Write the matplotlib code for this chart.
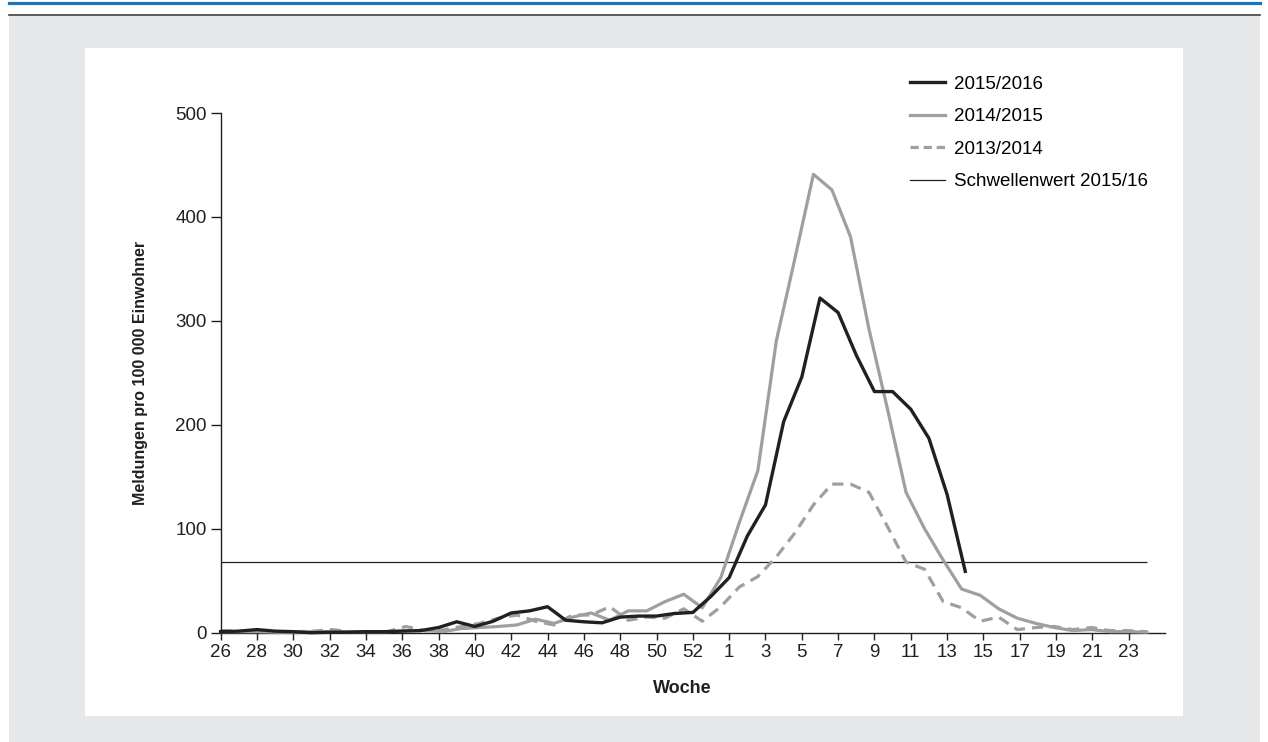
import numpy as np
import matplotlib
matplotlib.use("Agg")
import matplotlib.pyplot as plt
from matplotlib.patches import Rectangle
from matplotlib.lines import Line2D

plt.rcParams['font.family'] = ['Liberation Sans', 'DejaVu Sans']

# Kalenderwochen der Achse (2015 hat 53 Wochen)
axis_weeks = list(range(26, 54)) + list(range(1, 25))

# Meldungen pro 100 000 Einwohner, Saison 2015/2016 (Woche 26 bis 14)
s_1516 = [1, 1.5, 3, 1.5, 1, 0, 0.5, 0.5, 1, 1, 1.5, 2, 5, 10.5, 6, 11, 19, 21, 25, 12,
          10.5, 9.5, 15, 16, 16, 18.5, 19.5, 35,
          53, 93, 123, 203, 246, 322, 308, 267, 232, 232, 215, 187, 133, 59]

# Saisons ohne Woche 53 (Woche 26 bis 24, 51 Werte)
s_1415 = [1, 1, 1, 0.5, 0.5, 1, 1, 1, 1, 1, 2, 2, 1, 4, 5, 6, 7.5, 13, 9, 15,
          19, 12, 21, 21, 30, 37, 24,
          53, 106, 156, 281, 360, 441, 426, 381, 292, 215, 135, 100, 70, 42, 36,
          23, 14, 9, 5, 2, 3, 1, 1, 0.5]
s_1314 = [2, 1.5, 1, 1, 1, 1.5, 3, 1, 1, 1, 6, 2, 2.6, 6, 9, 14, 17, 11, 7.5, 17,
          17, 25, 12, 15, 14, 23, 11,
          25, 44, 54, 73, 96, 123, 143, 143, 135, 102, 68, 61, 30, 24, 11,
          15, 3, 5, 6, 3, 5, 2, 2, 1]

threshold = 68

labels = ['2015/2016', '2014/2015', '2013/2014', 'Schwellenwert 2015/16']

fig = plt.figure(figsize=(12.68, 7.42), dpi=100)
fig.patch.set_facecolor('white')

# Rahmen: blaue Linie, dunkle Linie, grauer Kasten, weisses Feld
fig.add_artist(Rectangle((0.0071, 0), 0.9866, 0.9784, transform=fig.transFigure,
                         facecolor='#e6e7e8', edgecolor='none', zorder=-3))
fig.add_artist(Rectangle((0.067, 0.035), 0.866, 0.9003, transform=fig.transFigure,
                         facecolor='white', edgecolor='none', zorder=-2))
fig.add_artist(Line2D([0.0071, 0.9937], [0.9956, 0.9956], color='#1b75bb', lw=2.3))
fig.add_artist(Line2D([0.0071, 0.9937], [0.9798, 0.9798], color='#3d3d3d', lw=1.2))

ax = fig.add_axes([0.174, 0.1473, 0.7448, 0.7004])
ax.set_facecolor('none')
ax.set_zorder(1)

x_new = np.arange(len(s_1516))
# 51 Wochen auf dieselbe Breite verteilt
x_old = np.linspace(0, len(axis_weeks) - 1, len(s_1415))

dark = '#231f20'
grey = '#9d9fa2'

ax.plot(x_new, s_1516, color=dark, lw=2.4, clip_on=False, zorder=4)
ax.plot(x_old, s_1415, color=grey, lw=2.3, clip_on=False, zorder=3)
ax.plot(x_old, s_1314, color=grey, lw=2.3, ls=(0, (3.5, 2.2)), clip_on=False, zorder=2)
ax.hlines(threshold, 0, len(axis_weeks) - 1, color=dark, lw=0.9, zorder=1)

ax.set_xlim(0, 52)
ax.set_ylim(0, 500)
ax.set_yticks([0, 100, 200, 300, 400, 500])
tick_pos = list(range(0, len(axis_weeks) - 1, 2))
ax.set_xticks(tick_pos)
ax.set_xticklabels([str(axis_weeks[i]) for i in tick_pos])

for s in ['top', 'right']:
    ax.spines[s].set_visible(False)
for s in ['left', 'bottom']:
    ax.spines[s].set_color('#231f20')
    ax.spines[s].set_linewidth(1.0)

ax.tick_params(axis='y', length=7, width=1, pad=3, labelsize=13.5, colors='#231f20')
ax.tick_params(axis='x', length=5, width=1, pad=3, labelsize=13.5, colors='#231f20')

ax.set_ylabel('Meldungen pro 100 000 Einwohner', fontsize=11.5, fontweight='bold', color='#231f20')
ax.yaxis.set_label_coords(-0.077, 0.5)
ax.set_xlabel('Woche', fontsize=13, fontweight='bold', color='#231f20', va='top')
ax.xaxis.set_label_coords(0.4885, -0.091)

handles = [Line2D([], [], color=dark, lw=2.4),
           Line2D([], [], color=grey, lw=2.3),
           Line2D([], [], color=grey, lw=2.3, ls=(0, (2.6, 1.5))),
           Line2D([], [], color=dark, lw=0.9)]
fig.legend(handles, labels, loc='upper left', bbox_to_anchor=(0.7177, 0.8978),
           frameon=False, fontsize=13.5, handlelength=1.87, handletextpad=0.48,
           labelspacing=0.82, borderpad=0, borderaxespad=0)

fig.savefig('out.png', dpi=100)
